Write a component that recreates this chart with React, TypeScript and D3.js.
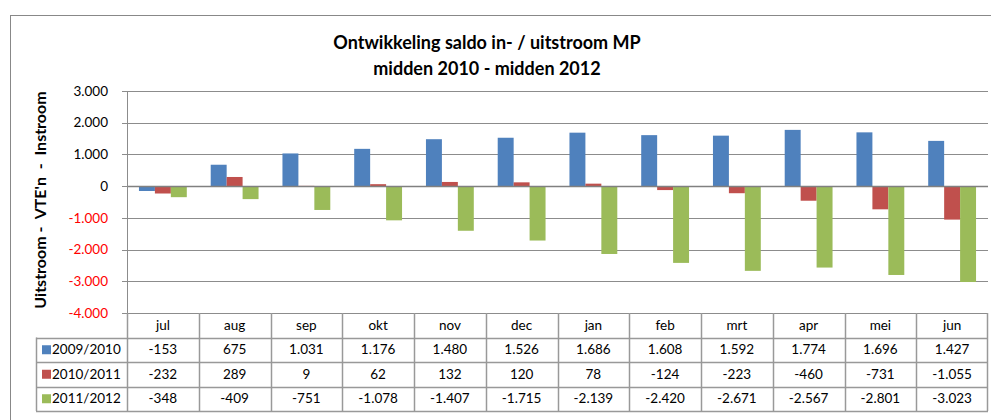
import React, { useEffect, useRef } from 'react';
import * as d3 from 'd3';

const months = ['jul', 'aug', 'sep', 'okt', 'nov', 'dec', 'jan', 'feb', 'mrt', 'apr', 'mei', 'jun'];
const seriesNames = ['2009/2010', '2010/2011', '2011/2012'];
const colors = ['#4F81BD', '#C0504D', '#9BBB59'];
const s2009 = [-153, 675, 1031, 1176, 1480, 1526, 1686, 1608, 1592, 1774, 1696, 1427];
const s2010 = [-232, 289, 9, 62, 132, 120, 78, -124, -223, -460, -731, -1055];
const s2011 = [-348, -409, -751, -1078, -1407, -1715, -2139, -2420, -2671, -2567, -2801, -3023];
const yTicks = [3000, 2000, 1000, 0, -1000, -2000, -3000, -4000];

const W = 991;
const H = 420;
const FONT = 'Lato, "Open Sans", sans-serif';

const nl = d3.formatLocale({ decimal: ',', thousands: '.', grouping: [3], currency: ['€', ''], minus: '-' });
const fmt = nl.format(',d');

export default function App() {
  const ref = useRef<SVGSVGElement>(null);

  useEffect(() => {
    const svg = d3.select(ref.current);
    svg.selectAll('*').remove();

    const series = [s2009, s2010, s2011];
    const left = 127, right = 988, top = 91, bottom = 313;
    const rowH = 24.5;

    const x = d3.scaleBand<string>().domain(months).range([left, right]).paddingInner(0).paddingOuter(0);
    const xs = d3.scaleBand<string>().domain(seriesNames).range([0, x.bandwidth()]).paddingInner(0).paddingOuter(0.75);
    const y = d3.scaleLinear().domain([-4000, 3000]).range([bottom, top]);

    svg.append('rect').attr('width', W).attr('height', H).attr('fill', '#fff');
    // outer chart frame
    svg.append('rect')
      .attr('x', 10.5).attr('y', 15.5).attr('width', 1000).attr('height', 500)
      .attr('fill', 'none').attr('stroke', '#888').attr('stroke-width', 1);

    // title
    const title = svg.append('text')
      .attr('text-anchor', 'middle')
      .attr('font-family', FONT).attr('font-weight', 'bold').attr('font-size', 18).attr('fill', '#000');
    title.append('tspan').attr('x', 487).attr('y', 49).text('Ontwikkeling saldo in- / uitstroom MP');
    title.append('tspan').attr('x', 487).attr('y', 75).text('midden 2010 - midden 2012');

    // y axis title
    svg.append('text')
      .attr('transform', `translate(46,${(top + bottom) / 2 - 2}) rotate(-90)`)
      .attr('text-anchor', 'middle')
      .attr('font-family', FONT).attr('font-weight', 'bold').attr('font-size', 16)
      .style('white-space', 'pre')
      .text("Uitstroom -  VTE'n  -  Instroom");

    // gridlines
    yTicks.forEach(t => {
      svg.append('line')
        .attr('x1', left - 5).attr('x2', right)
        .attr('y1', Math.round(y(t)) + 0.5).attr('y2', Math.round(y(t)) + 0.5)
        .attr('stroke', '#8c8c8c')
        .attr('stroke-width', 1);
      svg.append('text')
        .attr('x', 108).attr('y', y(t))
        .attr('dy', '0.35em')
        .attr('text-anchor', 'end')
        .attr('font-family', FONT).attr('font-size', 13.5)
        .attr('fill', t < 0 ? '#ff0000' : '#000')
        .text(fmt(t));
    });

    // bars
    series.forEach((vals, si) => {
      svg.append('g').selectAll('rect')
        .data(vals)
        .enter()
        .append('rect')
        .attr('x', (d, i) => (x(months[i]) as number) + (xs(seriesNames[si]) as number))
        .attr('y', d => y(Math.max(0, d)))
        .attr('width', xs.bandwidth())
        .attr('height', d => Math.abs(y(d) - y(0)))
        .attr('fill', colors[si]);
    });
    // zero line on top of the bars
    svg.append('line')
      .attr('x1', left).attr('x2', right)
      .attr('y1', Math.round(y(0)) + 0.5).attr('y2', Math.round(y(0)) + 0.5)
      .attr('stroke', '#808080').attr('stroke-width', 1.5);

    // y axis line
    svg.append('line')
      .attr('x1', left + 0.5).attr('x2', left + 0.5)
      .attr('y1', top).attr('y2', bottom)
      .attr('stroke', '#8c8c8c');

    // data table
    const tbl = svg.append('g');
    const stroke = '#999';
    const tableBottom = bottom + rowH * 4;
    months.forEach((m, i) => {
      const x0 = x(m) as number;
      tbl.append('line')
        .attr('x1', Math.round(x0) + 0.5).attr('x2', Math.round(x0) + 0.5)
        .attr('y1', bottom).attr('y2', tableBottom)
        .attr('stroke', stroke).attr('stroke-width', 1.5);
      tbl.append('text')
        .attr('x', x0 + x.bandwidth() / 2).attr('y', bottom + rowH / 2)
        .attr('dy', '0.35em').attr('text-anchor', 'middle')
        .attr('font-family', FONT).attr('font-size', 13.5)
        .text(m);
    });
    tbl.append('line')
      .attr('x1', right - 0.5).attr('x2', right - 0.5)
      .attr('y1', bottom).attr('y2', tableBottom)
      .attr('stroke', stroke).attr('stroke-width', 1.5);
    // key column left edge
    tbl.append('line')
      .attr('x1', 36.5).attr('x2', 36.5)
      .attr('y1', bottom + rowH).attr('y2', tableBottom)
      .attr('stroke', stroke).attr('stroke-width', 1.5);
    // horizontal rules
    for (let r = 1; r <= 4; r++) {
      const yy = Math.round(bottom + rowH * r) + 0.5;
      tbl.append('line')
        .attr('x1', 36).attr('x2', right)
        .attr('y1', yy).attr('y2', yy)
        .attr('stroke', stroke).attr('stroke-width', 1.5);
    }
    series.forEach((vals, si) => {
      const cy = bottom + rowH * (si + 1) + rowH / 2;
      tbl.append('rect')
        .attr('x', 42).attr('y', cy - 4.5).attr('width', 9).attr('height', 9)
        .attr('fill', colors[si]);
      tbl.append('text')
        .attr('x', 52).attr('y', cy).attr('dy', '0.35em')
        .attr('font-family', FONT).attr('font-size', 13.5)
        .text(seriesNames[si]);
      vals.forEach((v, i) => {
        tbl.append('text')
          .attr('x', (x(months[i]) as number) + x.bandwidth() / 2).attr('y', cy)
          .attr('dy', '0.35em').attr('text-anchor', 'middle')
          .attr('font-family', FONT).attr('font-size', 13.5)
          .text(fmt(v));
      });
    });
  }, []);

  return (
    <svg ref={ref} width={W} height={H} style={{ position: 'absolute', left: 0, top: 0, display: 'block' }} />
  );
}
